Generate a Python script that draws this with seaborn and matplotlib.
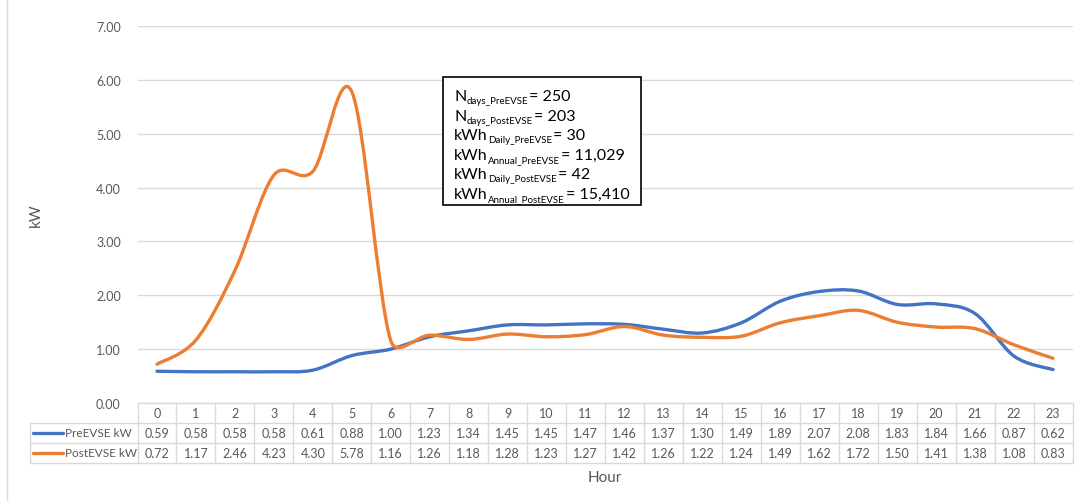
import numpy as np
import pandas as pd
import seaborn as sns
import matplotlib
from matplotlib import pyplot as plt
from matplotlib.path import Path
from matplotlib.patches import PathPatch, Rectangle
from matplotlib.lines import Line2D

hours = list(range(24))
pre_kw = [0.59, 0.58, 0.58, 0.58, 0.61, 0.88, 1.00, 1.23, 1.34, 1.45, 1.45, 1.47,
          1.46, 1.37, 1.30, 1.49, 1.89, 2.07, 2.08, 1.83, 1.84, 1.66, 0.87, 0.62]
post_kw = [0.72, 1.17, 2.46, 4.23, 4.30, 5.78, 1.16, 1.26, 1.18, 1.28, 1.23, 1.27,
           1.42, 1.26, 1.22, 1.24, 1.49, 1.62, 1.72, 1.50, 1.41, 1.38, 1.08, 0.83]
series_names = ["PreEVSE kW", "PostEVSE kW"]
colors = ["#4472C4", "#ED7D31"]
y_ticks = [0, 1, 2, 3, 4, 5, 6, 7]
box_base = ["N", "N", "kWh", "kWh", "kWh", "kWh"]
box_sub = ["days_PreEVSE", "days_PostEVSE", "Daily_PreEVSE", "Annual_PreEVSE",
           "Daily_PostEVSE", "Annual_PostEVSE"]
box_val = ["250", "203", "30", "11,029", "42", "15,410"]

sns.set_theme(style="white")
matplotlib.rcParams.update({
    "font.family": ["Lato", "DejaVu Sans"],
})
TXT = "#595959"
GRID = "#D9D9D9"

W, H = 1076, 502
fig = plt.figure(figsize=(W / 100, H / 100), dpi=100)


def fx(px):
    return px / W


def fy(py):
    return 1 - py / H


x_left, x_right = 137.5, 1072.5
y_top, y_zero = 27, 404
ax = fig.add_axes([fx(x_left), fy(y_zero), fx(x_right - x_left), (y_zero - y_top) / H])

df = pd.DataFrame({"Hour": hours * 2,
                   "kW": pre_kw + post_kw,
                   "series": [series_names[0]] * 24 + [series_names[1]] * 24})
sns.lineplot(data=df, x="Hour", y="kW", hue="series", palette=colors,
             legend=False, ax=ax, linewidth=2.4)

ax.set_xlim(-0.5, 23.5)
ax.set_ylim(0, 7)

# pixel size of one data unit, used for the smoothing distances
sx = (x_right - x_left) / 24
sy = (y_zero - y_top) / 7


def smooth_path(xs, ys):
    # Excel-style smoothed line: cubic Bezier, control points from neighbours,
    # handle length capped at half the segment length (screen space)
    pts = np.column_stack([xs, ys]).astype(float)
    scale = np.array([sx, sy])
    n = len(pts)
    verts = [pts[0]]
    codes = [Path.MOVETO]
    for i in range(n - 1):
        p0 = pts[max(i - 1, 0)]
        p1 = pts[i]
        p2 = pts[i + 1]
        p3 = pts[min(i + 2, n - 1)]
        d12 = np.hypot(*((p2 - p1) * scale))
        d02 = np.hypot(*((p2 - p0) * scale))
        d13 = np.hypot(*((p3 - p1) * scale))
        f0 = 1 / 6 if d02 / 6 < d12 / 2 else d12 / (2 * d02)
        f3 = 1 / 6 if d13 / 6 < d12 / 2 else d12 / (2 * d13)
        c1 = p1 + (p2 - p0) * f0
        c2 = p2 - (p3 - p1) * f3
        verts += [c1, c2, p2]
        codes += [Path.CURVE4] * 3
    return Path(verts, codes)


for line, c in zip(list(ax.lines), colors):
    xd, yd = line.get_xdata(), line.get_ydata()
    line.set_visible(False)
    ax.add_patch(PathPatch(smooth_path(xd, yd), facecolor="none", edgecolor=c,
                           linewidth=2.4, capstyle="round", zorder=3))

ax.set_yticks(y_ticks)
ax.set_yticklabels([f"{v:.2f}" for v in y_ticks], color=TXT, fontsize=9)
ax.set_xticks([])
ax.tick_params(axis="y", length=0, pad=12)
ax.set_xlabel("")
ax.set_ylabel("")
ax.grid(axis="y", color=GRID, linewidth=1)
for s in ax.spines.values():
    s.set_visible(False)

fig.text(fx(36), fy(215), "kW", rotation=90, ha="center", va="center",
         color=TXT, fontsize=11)
fig.text(fx(605), fy(478), "Hour", ha="center", va="center", color=TXT, fontsize=11)

# data table
row_edges = [404, 424, 444, 464]
col_w = (x_right - x_left) / 24
label_left = 30
tcol = "#D9D9D9"


def hline(x0, x1, y):
    fig.add_artist(Line2D([fx(x0), fx(x1)], [fy(y), fy(y)], color=tcol, lw=1))


def vline(x, y0, y1):
    fig.add_artist(Line2D([fx(x), fx(x)], [fy(y0), fy(y1)], color=tcol, lw=1))


hline(x_left, x_right, row_edges[0])
for y in row_edges[1:]:
    hline(label_left, x_right, y)
vline(label_left, row_edges[1], row_edges[3])
for i in range(25):
    vline(x_left + i * col_w, row_edges[0], row_edges[3])

for i, h in enumerate(hours):
    cx = x_left + (i + 0.5) * col_w
    fig.text(fx(cx), fy(414), str(h), ha="center", va="center", color=TXT, fontsize=9)
    fig.text(fx(cx), fy(434), f"{pre_kw[i]:.2f}", ha="center", va="center",
             color=TXT, fontsize=9)
    fig.text(fx(cx), fy(454), f"{post_kw[i]:.2f}", ha="center", va="center",
             color=TXT, fontsize=9)

for r, (name, c) in enumerate(zip(series_names, colors)):
    yc = 434 + 20 * r
    fig.add_artist(Line2D([fx(33), fx(63)], [fy(yc), fy(yc)], color=c, lw=2.4))
    fig.text(fx(65), fy(yc), name, ha="left", va="center", color=TXT, fontsize=8.5)

# left border of chart area
fig.add_artist(Line2D([fx(6.5), fx(6.5)], [fy(0), fy(502)], color="#D9D9D9", lw=1))

# annotation box
fig.add_artist(Rectangle((fx(443), fy(206)), fx(641 - 443), (206 - 78) / H,
                         facecolor="white", edgecolor="black", lw=1.2,
                         transform=fig.transFigure, zorder=5))
renderer = fig.canvas.get_renderer()
for k in range(len(box_base)):
    yb = 101 + k * 19.6  # baseline in pixels
    t1 = fig.text(fx(454), fy(yb), box_base[k], ha="left", va="baseline",
                  color="black", fontsize=11.5, zorder=6)
    x1 = t1.get_window_extent(renderer).x1
    t2 = fig.text(x1 / W + fx(0.5), fy(yb + 3), box_sub[k], ha="left", va="baseline",
                  color="black", fontsize=7, zorder=6)
    x2 = t2.get_window_extent(renderer).x1
    fig.text(x2 / W + fx(1), fy(yb), "= " + box_val[k], ha="left", va="baseline",
             color="black", fontsize=11.5, zorder=6)

fig.savefig("out.png", dpi=100)
